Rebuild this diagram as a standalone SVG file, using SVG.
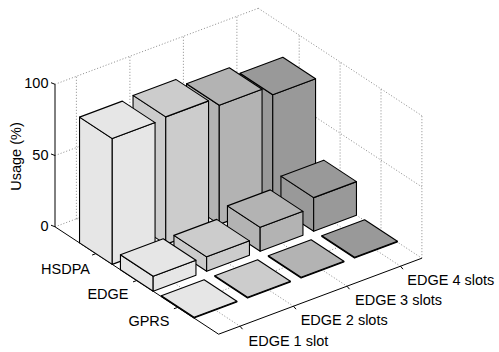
<svg xmlns="http://www.w3.org/2000/svg" width="499" height="352" viewBox="0 0 499 352">
<style>
.grid{stroke:#8a8a8a;stroke-width:1;stroke-dasharray:1 2;fill:none}
.axis{stroke:#000;stroke-width:1;fill:none}
.bar polygon{stroke:#000;stroke-width:1.1;stroke-linejoin:round}
.c1 polygon{fill:#e6e6e6}
.c2 polygon{fill:#cccccc}
.c3 polygon{fill:#b3b3b3}
.c4 polygon{fill:#999999}
text{font-family:"Liberation Sans",Arial,sans-serif;font-size:14.5px;fill:#000}
</style>
<rect width="499" height="352" fill="#fff"/>
<g id="grid">
<line class="grid" x1="76.4" y1="218.8" x2="76.4" y2="76.3"/>
<line class="grid" x1="129.9" y1="198.8" x2="129.9" y2="56.3"/>
<line class="grid" x1="183.4" y1="178.8" x2="183.4" y2="36.3"/>
<line class="grid" x1="236.9" y1="158.8" x2="236.9" y2="16.3"/>
<line class="grid" x1="55" y1="226.8" x2="258.3" y2="150.8"/>
<line class="grid" x1="55" y1="155.55" x2="258.3" y2="79.55"/>
<line class="grid" x1="55" y1="84.3" x2="258.3" y2="8.3"/>
<line class="grid" x1="299.2" y1="177.65" x2="299.2" y2="35.15"/>
<line class="grid" x1="340.1" y1="204.5" x2="340.1" y2="62"/>
<line class="grid" x1="381" y1="231.35" x2="381" y2="88.85"/>
<line class="grid" x1="421.9" y1="258.2" x2="421.9" y2="115.7"/>
<line class="grid" x1="258.3" y1="150.8" x2="421.9" y2="258.2"/>
<line class="grid" x1="258.3" y1="79.55" x2="421.9" y2="186.95"/>
<line class="grid" x1="258.3" y1="8.3" x2="421.9" y2="115.7"/>
<line class="grid" x1="76.4" y1="218.8" x2="240" y2="326.2"/>
<line class="grid" x1="129.9" y1="198.8" x2="293.5" y2="306.2"/>
<line class="grid" x1="183.4" y1="178.8" x2="347" y2="286.2"/>
<line class="grid" x1="236.9" y1="158.8" x2="400.5" y2="266.2"/>
<line class="grid" x1="95.9" y1="253.65" x2="299.2" y2="177.65"/>
<line class="grid" x1="136.8" y1="280.5" x2="340.1" y2="204.5"/>
<line class="grid" x1="177.7" y1="307.35" x2="381" y2="231.35"/>
</g>
<g id="axes">
<polyline class="axis" points="55,84.3 55,226.8 218.6,334.2 421.9,258.2"/>
<path class="axis" d="M55,226.8 l-4,-1.6 M55,155.55 l-4,-1.6 M55,84.3 l-4,-1.6 M95.9,253.65 l-3.8,1.4 M136.8,280.5 l-3.8,1.4 M177.7,307.35 l-3.8,1.4 M240,326.2 l2.5,3 M293.5,306.2 l2.5,3 M347,286.2 l2.5,3 M400.5,266.2 l2.5,3"/>
</g>
<g id="hsdpa-4" class="bar c4">
<polygon points="240.04,182.91 272.76,204.39 272.76,94.79 240.04,73.31"/>
<polygon points="272.76,204.39 315.56,188.39 315.56,78.79 272.76,94.79"/>
<polygon points="240.04,73.31 282.84,57.31 315.56,78.79 272.76,94.79"/>
</g>
<g id="hsdpa-3" class="bar c3">
<polygon points="186.54,202.91 219.26,224.39 219.26,105.29 186.54,83.81"/>
<polygon points="219.26,224.39 262.06,208.39 262.06,89.29 219.26,105.29"/>
<polygon points="186.54,83.81 229.34,67.81 262.06,89.29 219.26,105.29"/>
</g>
<g id="hsdpa-2" class="bar c2">
<polygon points="133.04,222.91 165.76,244.39 165.76,116.89 133.04,95.41"/>
<polygon points="165.76,244.39 208.56,228.39 208.56,100.89 165.76,116.89"/>
<polygon points="133.04,95.41 175.84,79.41 208.56,100.89 165.76,116.89"/>
</g>
<g id="hsdpa-1" class="bar c1">
<polygon points="79.54,242.91 112.26,264.39 112.26,138.59 79.54,117.11"/>
<polygon points="112.26,264.39 155.06,248.39 155.06,122.59 112.26,138.59"/>
<polygon points="79.54,117.11 122.34,101.11 155.06,122.59 112.26,138.59"/>
</g>
<g id="edge-4" class="bar c4">
<polygon points="280.94,209.76 313.66,231.24 313.66,197.64 280.94,176.16"/>
<polygon points="313.66,231.24 356.46,215.24 356.46,181.64 313.66,197.64"/>
<polygon points="280.94,176.16 323.74,160.16 356.46,181.64 313.66,197.64"/>
</g>
<g id="edge-3" class="bar c3">
<polygon points="227.44,229.76 260.16,251.24 260.16,227.34 227.44,205.86"/>
<polygon points="260.16,251.24 302.96,235.24 302.96,211.34 260.16,227.34"/>
<polygon points="227.44,205.86 270.24,189.86 302.96,211.34 260.16,227.34"/>
</g>
<g id="edge-2" class="bar c2">
<polygon points="173.94,249.76 206.66,271.24 206.66,256.84 173.94,235.36"/>
<polygon points="206.66,271.24 249.46,255.24 249.46,240.84 206.66,256.84"/>
<polygon points="173.94,235.36 216.74,219.36 249.46,240.84 206.66,256.84"/>
</g>
<g id="edge-1" class="bar c1">
<polygon points="120.44,269.76 153.16,291.24 153.16,276.24 120.44,254.76"/>
<polygon points="153.16,291.24 195.96,275.24 195.96,260.24 153.16,276.24"/>
<polygon points="120.44,254.76 163.24,238.76 195.96,260.24 153.16,276.24"/>
</g>
<g id="gprs-4" class="bar c4">
<polygon points="321.84,236.61 354.56,258.09 397.36,242.09 397.36,241.29 354.56,257.29 321.84,235.81"/>
<polygon points="321.84,235.81 364.64,219.81 397.36,241.29 354.56,257.29"/>
</g>
<g id="gprs-3" class="bar c3">
<polygon points="268.34,256.61 301.06,278.09 343.86,262.09 343.86,261.29 301.06,277.29 268.34,255.81"/>
<polygon points="268.34,255.81 311.14,239.81 343.86,261.29 301.06,277.29"/>
</g>
<g id="gprs-2" class="bar c2">
<polygon points="214.84,276.61 247.56,298.09 290.36,282.09 290.36,281.29 247.56,297.29 214.84,275.81"/>
<polygon points="214.84,275.81 257.64,259.81 290.36,281.29 247.56,297.29"/>
</g>
<g id="gprs-1" class="bar c1">
<polygon points="161.34,296.61 194.06,318.09 236.86,302.09 236.86,301.29 194.06,317.29 161.34,295.81"/>
<polygon points="161.34,295.81 204.14,279.81 236.86,301.29 194.06,317.29"/>
</g>
<g id="labels">
<text x="48.5" y="87.5" text-anchor="end">100</text>
<text x="48.5" y="159.5" text-anchor="end">50</text>
<text x="48.5" y="230.7" text-anchor="end">0</text>
<text transform="translate(20.5,156.5) rotate(-90)" text-anchor="middle">Usage (%)</text>
<text x="90" y="273.5" text-anchor="end">HSDPA</text>
<text x="128.5" y="298.5" text-anchor="end">EDGE</text>
<text x="169.5" y="326.3" text-anchor="end">GPRS</text>
<text x="248.5" y="346">EDGE 1 slot</text>
<text x="300.7" y="324.5">EDGE 2 slots</text>
<text x="355" y="304.5">EDGE 3 slots</text>
<text x="407.3" y="285.3">EDGE 4 slots</text>
</g>
</svg>
